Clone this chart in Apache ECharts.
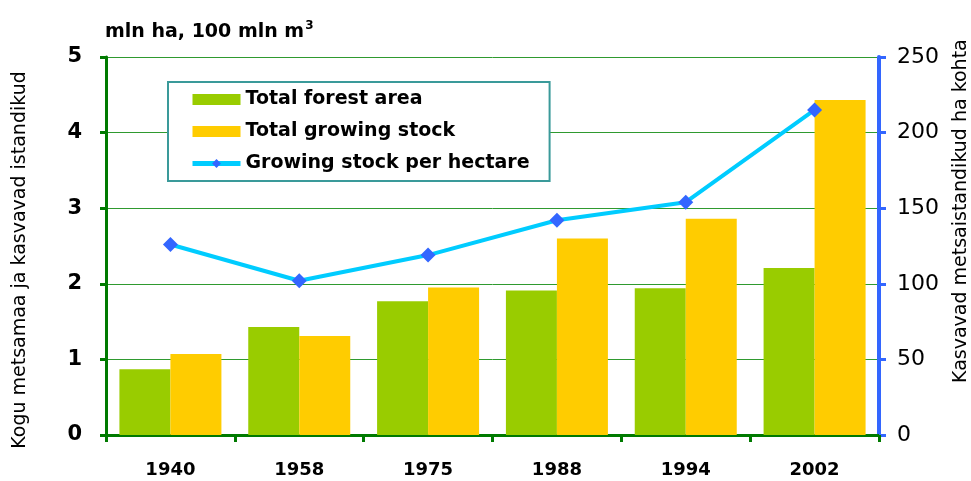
<!DOCTYPE html>
<html>
<head>
<meta charset="utf-8">
<script src="https://cdn.jsdelivr.net/npm/echarts@6/dist/echarts.min.js"></script>
<style>
html,body{margin:0;padding:0;background:#fff;}
#main{width:971px;height:481px;}
</style>
</head>
<body>
<div id="main"></div>
<script>
// years on the x axis
var years = ['1940', '1958', '1975', '1988', '1994', '2002'];
// mln ha
var forestArea = [0.87, 1.43, 1.77, 1.91, 1.94, 2.21];
// 100 mln m3
var growingStock = [1.07, 1.31, 1.95, 2.60, 2.86, 4.43];
// m3 per ha (right axis)
var stockPerHa = [126, 102, 119, 142, 154, 215];

var leftTicks = [0, 1, 2, 3, 4, 5];
var rightTicks = [0, 50, 100, 150, 200, 250];

var boldFont = 'DejaVu Sans';
var chart = echarts.init(document.getElementById('main'));

var option = {
    backgroundColor: '#fff',
    animation: false,
    title: {
        text: '{a|mln ha, 100 mln m}{s|3}',
        left: 100,
        top: 15,
        textStyle: {
            rich: {
                a: {fontFamily: boldFont, fontWeight: 'bold', fontSize: 19, color: '#000'},
                s: {fontFamily: boldFont, fontSize: 12, color: '#000', padding: [0, 0, 12, 1]}
            }
        }
    },
    legend: {
        orient: 'vertical',
        left: 168,
        top: 82,
        padding: [8, 20, 8, 22],
        itemWidth: 48,
        itemHeight: 11,
        itemGap: 13,
        backgroundColor: '#fff',
        borderColor: '#3a9a9a',
        borderWidth: 2,
        borderRadius: 0,
        textStyle: {fontFamily: boldFont, fontWeight: 'bold', fontSize: 19, color: '#000'},
        data: [
            {name: 'Total forest area', icon: 'rect'},
            {name: 'Total growing stock', icon: 'rect'},
            {name: 'Growing stock per hectare', lineStyle: {width: 5, color: '#00ccff'}}
        ]
    },
    grid: {left: 106, right: 92, top: 57, bottom: 46},
    xAxis: {
        type: 'category',
        data: years,
        axisLine: {lineStyle: {color: '#007a00', width: 3}},
        axisTick: {show: true, length: 7, lineStyle: {color: '#007a00', width: 3}},
        axisLabel: {margin: 26, fontFamily: boldFont, fontWeight: 'bold', fontSize: 18, color: '#000'}
    },
    yAxis: [
        {
            type: 'value',
            min: leftTicks[0],
            max: leftTicks[leftTicks.length - 1],
            interval: 1,
            axisLine: {show: true, lineStyle: {color: '#007a00', width: 3}},
            axisTick: {show: true, length: 6, lineStyle: {color: '#007a00', width: 3}},
            axisLabel: {margin: 24, fontFamily: boldFont, fontWeight: 'bold', fontSize: 21, color: '#000'},
            splitLine: {lineStyle: {color: '#2f9a2f', width: 1}}
        },
        {
            type: 'value',
            position: 'right',
            min: rightTicks[0],
            max: rightTicks[rightTicks.length - 1],
            interval: 50,
            axisLine: {show: true, lineStyle: {color: '#3366ff', width: 4}},
            axisTick: {show: true, length: 7, lineStyle: {color: '#3366ff', width: 3}},
            axisLabel: {margin: 18, fontFamily: 'DejaVu Sans', fontSize: 22, color: '#000'},
            splitLine: {show: false}
        }
    ],
    graphic: [
        {
            type: 'text',
            x: 20,
            y: 260,
            rotation: Math.PI / 2,
            style: {
                text: 'Kogu metsamaa ja kasvavad istandikud',
                fontFamily: 'DejaVu Sans',
                fontSize: 19,
                fill: '#000',
                align: 'center',
                verticalAlign: 'middle'
            }
        },
        {
            type: 'text',
            x: 961,
            y: 383,
            rotation: Math.PI / 2,
            style: {
                text: 'Kasvavad metsaistandikud ha kohta',
                fontFamily: 'DejaVu Sans',
                fontSize: 19,
                fill: '#000',
                align: 'left',
                verticalAlign: 'middle'
            }
        }
    ],
    series: [
        {
            name: 'Total forest area',
            type: 'bar',
            yAxisIndex: 0,
            barWidth: 51,
            barGap: '0%',
            itemStyle: {color: '#99cc00'},
            data: forestArea
        },
        {
            name: 'Total growing stock',
            type: 'bar',
            yAxisIndex: 0,
            barWidth: 51,
            barGap: '0%',
            itemStyle: {color: '#ffcc00'},
            data: growingStock
        },
        {
            name: 'Growing stock per hectare',
            type: 'line',
            yAxisIndex: 1,
            symbol: 'diamond',
            symbolSize: 15,
            lineStyle: {color: '#00ccff', width: 4},
            itemStyle: {color: '#3366ff'},
            z: 5,
            data: stockPerHa
        }
    ]
};

chart.setOption(option);
</script>
</body>
</html>
